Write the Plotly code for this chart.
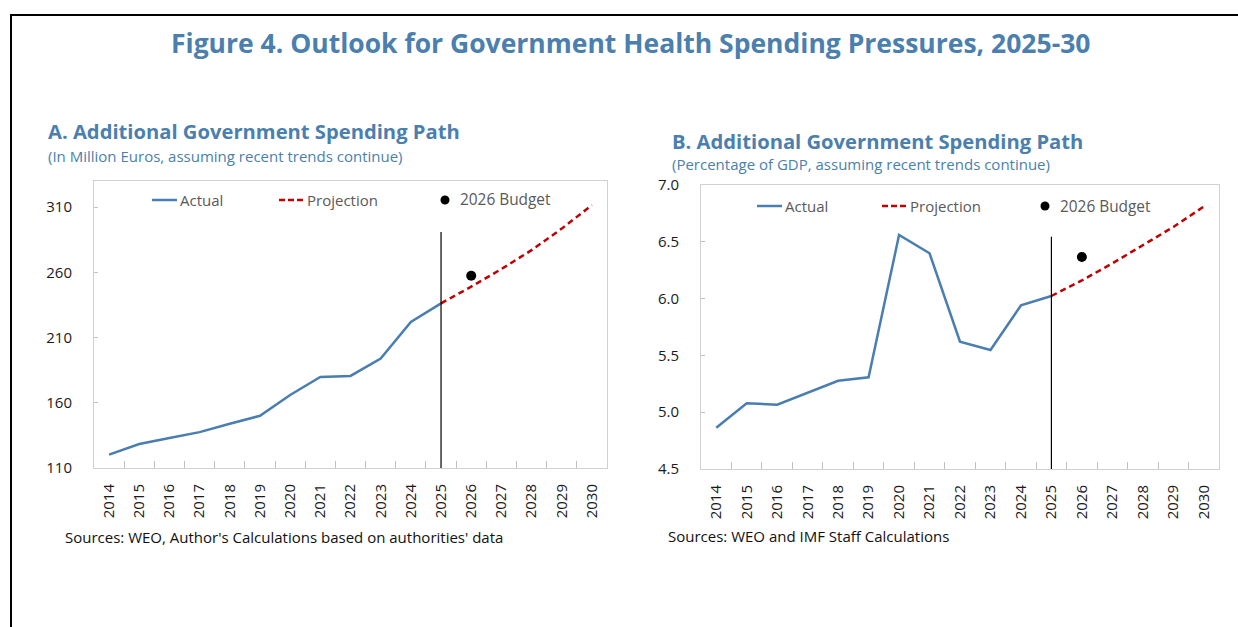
import plotly.graph_objects as go

# ---- data ----
years = [str(y) for y in range(2014, 2031)]
actual_years = [str(y) for y in range(2014, 2026)]
proj_years = [str(y) for y in range(2025, 2031)]
budget_year = ["2026"]
split_year = "2025"

# Panel A: million euros
a_actual = [120.2, 128.4, 133.0, 137.5, 143.9, 150.0, 166.0, 179.8, 180.6, 193.9, 222.0, 236.2]
a_proj = [236.2, 249.0, 262.5, 277.0, 293.5, 311.5]
a_budget = [257.4]
a_marker_top = 291
a_ticks = [110, 160, 210, 260, 310]

# Panel B: percent of GDP
b_actual = [4.864, 5.078, 5.066, 5.175, 5.277, 5.307, 6.56, 6.399, 5.62, 5.548, 5.94, 6.023]
b_proj = [6.023, 6.16, 6.31, 6.47, 6.63, 6.81]
b_budget = [6.366]
b_marker_top = 6.545
b_ticks = [4.5, 5.0, 5.5, 6.0, 6.5, 7.0]

W, H = 1238, 627
BLUE_T = "#4A7FAE"
LINE_BLUE = "#4A7EB0"
RED = "#C00000"
FONT = "Open Sans"


def px(x):
    return x / W


def py(y):
    return 1 - y / H


fig = go.Figure()

panels = [
    dict(xa="x", ya="y", act=a_actual, proj=a_proj, bud=a_budget, top=a_marker_top, base=110),
    dict(xa="x2", ya="y2", act=b_actual, proj=b_proj, bud=b_budget, top=b_marker_top, base=4.5),
]

split_idx = years.index(split_year)

for p in panels:
    fig.add_trace(go.Scatter(x=actual_years, y=p["act"], mode="lines",
                             line=dict(color=LINE_BLUE, width=2.5), xaxis=p["xa"], yaxis=p["ya"],
                             showlegend=False, name="Actual"))
    fig.add_trace(go.Scatter(x=proj_years, y=p["proj"], mode="lines",
                             line=dict(color=RED, width=2.5, dash="6px,4px"), xaxis=p["xa"], yaxis=p["ya"],
                             showlegend=False, name="Projection"))
    fig.add_trace(go.Scatter(x=budget_year, y=p["bud"], mode="markers",
                             marker=dict(color="black", size=10), xaxis=p["xa"], yaxis=p["ya"],
                             showlegend=False, name="2026 Budget"))
    # vertical marker separating actual and projection
    fig.add_shape(type="line", xref=p["xa"], yref=p["ya"], x0=split_idx, x1=split_idx,
                  y0=p["base"], y1=p["top"], line=dict(color="black", width=1.2), layer="above")

xaxis_common = dict(type="category", categoryorder="array", categoryarray=years,
                    range=[-0.5, 16.5], tickson="boundaries", ticks="inside", ticklen=7,
                    tickcolor="#BFBFBF", tickangle=-90, showgrid=False, zeroline=False,
                    showline=True, linecolor="#D0D0D0", linewidth=1, mirror=True, automargin=False,
                    tickfont=dict(family=FONT, size=15, color="#1a1a1a"), ticklabelstandoff=9)
yaxis_common = dict(ticks="inside", ticklen=4, tickcolor="#BFBFBF", showgrid=False, zeroline=False,
                    showline=True, linecolor="#D0D0D0", linewidth=1, mirror=True, automargin=False,
                    tickfont=dict(family=FONT, size=15, color="#1a1a1a"), ticklabelstandoff=18)

fig.update_layout(
    width=W, height=H, margin=dict(l=0, r=0, t=0, b=0, pad=0, autoexpand=False),
    paper_bgcolor="white", plot_bgcolor="white", showlegend=False,
    xaxis=dict(xaxis_common, domain=[px(94), px(607)], anchor="y"),
    yaxis=dict(yaxis_common, domain=[py(468), py(181)], anchor="x", range=[110, 330],
               tickvals=a_ticks),
    xaxis2=dict(xaxis_common, domain=[px(701), px(1219)], anchor="y2"),
    yaxis2=dict(yaxis_common, domain=[py(469), py(185)], anchor="x2", range=[4.5, 7.0],
                tickvals=b_ticks, tickformat=".1f"),
)

# frame around the figure
fig.add_shape(type="line", xref="paper", yref="paper", x0=px(10), x1=1, y0=py(15), y1=py(15),
              line=dict(color="black", width=2))
fig.add_shape(type="line", xref="paper", yref="paper", x0=px(11), x1=px(11), y0=py(14), y1=0,
              line=dict(color="black", width=2))


def text(x, y, s, size, color, bold=False, anchor="left"):
    fig.add_annotation(x=px(x), y=py(y), xref="paper", yref="paper", text=f"<b>{s}</b>" if bold else s,
                       showarrow=False, xanchor=anchor, yanchor="middle",
                       font=dict(family=FONT, size=size, color=color))


text(631, 43, "Figure 4. Outlook for Government Health Spending Pressures, 2025-30", 26.5, BLUE_T, True, "center")
text(46, 131, "A. Additional Government Spending Path", 20.2, BLUE_T, True)
text(46, 156, "(In Million Euros, assuming recent trends continue)", 15, BLUE_T)
text(670, 141, "B. Additional Government Spending Path", 20.2, BLUE_T, True)
text(670, 164, "(Percentage of GDP, assuming recent trends continue)", 15, BLUE_T)
text(63, 537, "Sources: WEO, Author's Calculations based on authorities' data", 15, "#111111")
text(666, 536, "Sources: WEO and IMF Staff Calculations", 15, "#111111")

# legend keys
LEG = "#595959"
for (ly, a0, p0, dotx) in [(200, 152, 279, 445), (206, 757, 882, 1045)]:
    fig.add_shape(type="line", xref="paper", yref="paper", x0=px(a0), x1=px(a0 + 25), y0=py(ly), y1=py(ly),
                  line=dict(color=LINE_BLUE, width=2.5))
    text(a0 + 26, ly, "Actual", 15, LEG)
    fig.add_shape(type="line", xref="paper", yref="paper", x0=px(p0), x1=px(p0 + 25), y0=py(ly), y1=py(ly),
                  line=dict(color=RED, width=2.5, dash="6px,3px"))
    text(p0 + 26, ly, "Projection", 15, LEG)
    fig.add_shape(type="circle", xref="paper", yref="paper", x0=px(dotx - 4.5), x1=px(dotx + 4.5),
                  y0=py(ly + 4.5), y1=py(ly - 4.5), fillcolor="black", line=dict(width=0))
    text(dotx + 13, ly, "2026 Budget", 15.4, LEG)

fig.write_html("out.html")
